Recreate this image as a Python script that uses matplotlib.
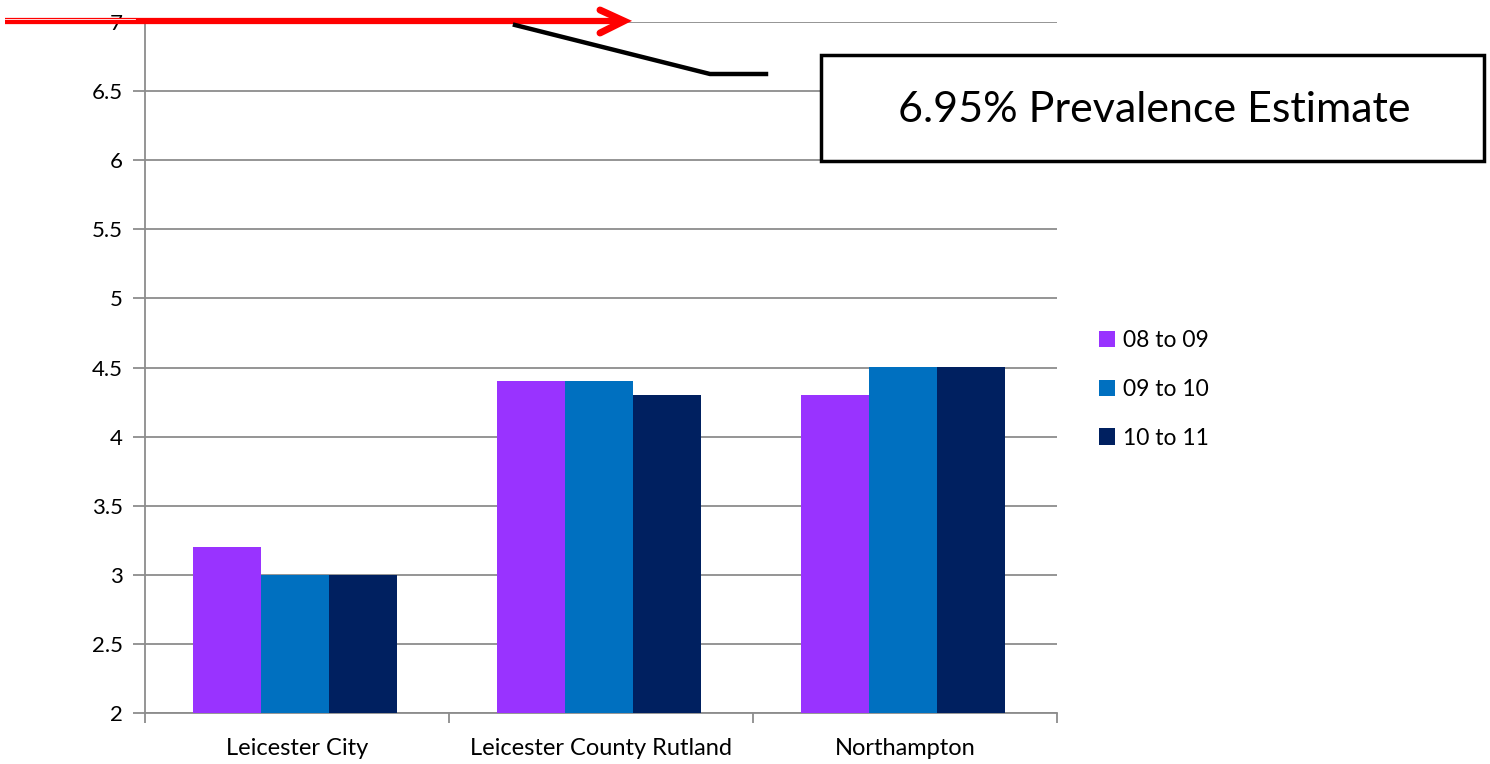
import numpy as np
import matplotlib.pyplot as plt
from matplotlib.patches import Rectangle
from matplotlib.lines import Line2D

plt.rcParams['font.family'] = ['Lato', 'DejaVu Sans']

categories = ['Leicester City', 'Leicester County Rutland', 'Northampton']
series_names = ['08 to 09', '09 to 10', '10 to 11']
values_0809 = [3.2, 4.4, 4.3]
values_0910 = [3.0, 4.4, 4.5]
values_1011 = [3.0, 4.3, 4.5]
colors = ['#9933FF', '#0070C0', '#002060']
y_ticks = [2, 2.5, 3, 3.5, 4, 4.5, 5, 5.5, 6, 6.5, 7]
note = '6.95% Prevalence Estimate'

W, H = 1490, 764
fig = plt.figure(figsize=(W / 100, H / 100), dpi=100)
ax = fig.add_axes([145 / W, 1 - 713 / H, (1057 - 145) / W, (713 - 22) / H])

x = np.arange(len(categories))
width = 0.224
all_values = [values_0809, values_0910, values_1011]
for i, (vals, name, c) in enumerate(zip(all_values, series_names, colors)):
    ax.bar(x + (i - 1) * width - 0.006, [v - 2 for v in vals], width, bottom=2,
           color=c, label=name, zorder=3)

ax.set_xlim(-0.5, len(categories) - 0.5)
ax.set_ylim(2, 7)
ax.set_yticks(y_ticks)
ax.set_yticklabels([f'{t:g}' for t in y_ticks], fontsize=16)
ax.yaxis.grid(True, color='#8c8c8c', linewidth=1.3, zorder=0)
ax.set_xticks(x)
ax.set_xticklabels(categories, fontsize=17)
ax.set_xticks(np.arange(len(categories) + 1) - 0.5, minor=True)
ax.tick_params(axis='x', which='major', length=0, pad=18)
ax.tick_params(axis='x', which='minor', length=7, color='#8c8c8c', width=1.3)
ax.tick_params(axis='y', length=9, color='#8c8c8c', width=1.3, pad=7)
for s in ['top', 'right']:
    ax.spines[s].set_visible(False)
for s in ['left', 'bottom']:
    ax.spines[s].set_color('#8c8c8c')
    ax.spines[s].set_linewidth(1.3)

ax.legend(loc='upper left', bbox_to_anchor=(1078 / W, 1 - 309 / H),
          bbox_transform=fig.transFigure, frameon=False, fontsize=16.5,
          handlelength=0.7, handleheight=0.7, handletextpad=0.35,
          labelspacing=1.22)

# red arrow at the top
def fx(px):
    return px / W

def fy(py):
    return 1 - py / H

fig.add_artist(Line2D([fx(5), fx(622)], [fy(21), fy(21)], color='#ff0000',
                      linewidth=4.5, solid_capstyle='butt'))
fig.add_artist(Line2D([fx(5), fx(135)], [fy(19.3), fy(19.3)], color='white',
                      linewidth=0.6))
fig.add_artist(Line2D([fx(600), fx(624), fx(600)], [fy(10), fy(21), fy(33)],
                      color='#ff0000', linewidth=5, solid_capstyle='round',
                      solid_joinstyle='miter'))

# black pointer line
fig.add_artist(Line2D([fx(515), fx(710), fx(766)], [fy(25), fy(74), fy(74)],
                      color='black', linewidth=3.2))

# note box
fig.add_artist(Rectangle((fx(821), fy(161)), fx(1484) - fx(821), fy(55) - fy(161),
                         transform=fig.transFigure, facecolor='white',
                         edgecolor='black', linewidth=2.5))
fig.text(fx(1154), fy(110), note, fontsize=31, ha='center', va='center')

fig.savefig('out.png', dpi=100, facecolor='white')
